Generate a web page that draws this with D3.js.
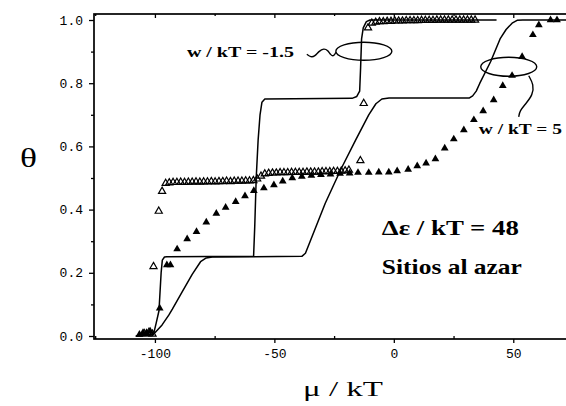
<!DOCTYPE html>
<html>
<head>
<meta charset="utf-8">
<script src="https://cdn.jsdelivr.net/npm/d3@7"></script>
<style>
  body { margin: 0; background: #fff; }
  svg { display: block; }
</style>
</head>
<body>
<div class="visual-data"></div>
<script>
const width = 566;
const height = 406;

// solid curves (mu/kT, theta)
const muLine1 = [-108, -101.2, -100.6, -99.5, -98.3, -97.4, -96.9, -96, -95, -58.7, -58.2, -57.6, -56.8, -56, -55.2, -54, -17.5, -15.5, -14.3, -13.9, -13.5, -12.8, -11.5, -10, 43];
const thetaLine1 = [0, 0.001, 0.005, 0.04, 0.08, 0.2, 0.24, 0.25, 0.251, 0.252, 0.35, 0.5, 0.62, 0.7, 0.74, 0.75, 0.752, 0.758, 0.775, 0.85, 0.94, 0.975, 0.995, 1.0, 1.0];

const muLine2 = [-108, -102, -100, -97, -94.2, -92.7, -88.6, -84.4, -80.9, -78.5, -76, -38.5, -37, -35, -28.7, -22, -16, -10.5, -7.5, -5, -2, 31.5, 33, 34.5, 36, 40.5, 44.6, 47, 49.5, 51.6, 54, 76];
const thetaLine2 = [0, 0.003, 0.01, 0.035, 0.066, 0.085, 0.14, 0.195, 0.235, 0.247, 0.25, 0.252, 0.262, 0.3, 0.42, 0.53, 0.62, 0.7, 0.735, 0.75, 0.753, 0.753, 0.76, 0.775, 0.8, 0.868, 0.942, 0.97, 0.99, 0.999, 1.0, 1.0];

// open triangles, w/kT = -1.5
const muOpen = [-104.5, -102.5, -101, -100.6, -98.4, -97,
  -95.5, -94, -92.4, -90.8, -89.2, -87.6, -86, -84.4, -82.8, -81.2, -79.6, -78, -76.4, -74.8, -73.2, -71.6, -70, -68.4, -66.8, -65.2, -63.6, -62, -60.4, -58.8,
  -57.2, -55.6, -54,
  -52.4, -50.8, -49.2, -47.6, -46, -44.4, -42.8, -41.2, -39.6, -38, -36.4, -34.8, -33.2, -31.6, -30, -28.4, -26.8, -25.2, -23.6, -22, -20.4, -18.8,
  -14, -12.6, -10.8,
  -9.2, -7.6, -6, -4.4, -2.8, -1.2, 0.4, 2, 3.6, 5.2, 6.8, 8.4, 10, 11.6, 13.2, 14.8, 16.4, 18, 19.6, 21.2, 22.8, 24.4, 26, 27.6, 29.2, 30.8, 32.4, 34];
const thetaOpen = [0.008, 0.012, 0.006, 0.22, 0.395, 0.458,
  0.483, 0.485, 0.486, 0.486, 0.487, 0.486, 0.487, 0.487, 0.488, 0.487, 0.488, 0.488, 0.489, 0.488, 0.489, 0.489, 0.49, 0.489, 0.49, 0.49, 0.49, 0.491, 0.491, 0.492,
  0.497, 0.506, 0.513,
  0.515, 0.516, 0.516, 0.517, 0.517, 0.517, 0.518, 0.518, 0.518, 0.518, 0.519, 0.519, 0.519, 0.519, 0.52, 0.52, 0.52, 0.521, 0.521, 0.522, 0.523, 0.525,
  0.555, 0.736, 0.975,
  0.99, 0.993, 0.995, 0.995, 0.996, 0.996, 0.997, 0.997, 0.997, 0.998, 0.998, 0.998, 0.998, 0.999, 0.999, 0.999, 0.999, 1.0, 1.0, 1.0, 1.0, 1.0, 1.0, 1.0, 1.0, 1.0, 1.0, 1.0];

// filled triangles, w/kT = 5
const muFilled = [-106.5, -105, -103.5, -102, -98, -95, -93.5, -90.7, -86.5, -82.6, -78.5, -74.3, -70.4, -66.2, -62.3, -58.6, -54.4, -50.2, -46.5, -42.5, -38.5, -34.5, -30.5, -26.5, -22.5, -18.5, -15, -10.5, -6.3, -2.1, 1.4, 6, 9.8, 13.5, 17.4, 21.3, 25.1, 29.3, 33.5, 37.4, 41.8, 45.6, 49.5, 53.7, 58.2, 60.7, 65.6, 68.3];
const thetaFilled = [0.005, 0.01, 0.01, 0.015, 0.088, 0.225, 0.225, 0.275, 0.307, 0.33, 0.36, 0.388, 0.407, 0.425, 0.443, 0.46, 0.468, 0.478, 0.49, 0.5, 0.505, 0.508, 0.51, 0.512, 0.514, 0.515, 0.517, 0.517, 0.518, 0.518, 0.522, 0.527, 0.538, 0.547, 0.56, 0.594, 0.623, 0.652, 0.684, 0.712, 0.747, 0.792, 0.824, 0.884, 0.953, 0.984, 1.0, 1.0];

const xMajor = [-100, -50, 0, 50];
const xMinor = [-125, -75, -25, 25, 75];
const yMajor = [0, 0.2, 0.4, 0.6, 0.8, 1.0];
const yMinor = [0.1, 0.3, 0.5, 0.7, 0.9];

const xMin = -125.5, xMax = 75, yMin = -0.0095, yMax = 1.019;

const x = d3.scaleLinear().domain([xMin, xMax]).range([94, 573]);
const y = d3.scaleLinear().domain([yMin, yMax]).range([339, 14]);

const svg = d3.select(".visual-data")
              .append("svg")
              .attr("width", width)
              .attr("height", height)
              .style("background-color", "#FFFFFF");

//frame
svg.append("rect")
   .attr("x", x(xMin))
   .attr("y", y(yMax))
   .attr("width", x(xMax) - x(xMin))
   .attr("height", y(yMin) - y(yMax))
   .attr("fill", "none")
   .attr("stroke", "#000")
   .attr("stroke-width", 1.7);

//axes
function styleAxis(g) {
  g.select(".domain").remove();
  g.selectAll("line").attr("stroke", "#000").attr("stroke-width", 1.3);
  g.selectAll("text")
   .attr("fill", "#000")
   .style("font-family", "'Liberation Mono', monospace")
   .style("font-size", "13px");
}

svg.append("g")
   .attr("transform", "translate(0," + y(yMin) + ")")
   .call(d3.axisBottom(x).tickValues(xMajor).tickSize(4).tickPadding(6).tickFormat(d => String(d)))
   .call(styleAxis);
svg.append("g")
   .attr("transform", "translate(0," + y(yMin) + ")")
   .call(d3.axisTop(x).tickValues(xMinor).tickSize(3).tickFormat(""))
   .call(styleAxis);
svg.append("g")
   .attr("transform", "translate(0," + y(yMax) + ")")
   .call(d3.axisBottom(x).tickValues(xMajor).tickSize(4).tickFormat(""))
   .call(styleAxis);
svg.append("g")
   .attr("transform", "translate(0," + y(yMax) + ")")
   .call(d3.axisBottom(x).tickValues(xMinor).tickSize(2).tickFormat(""))
   .call(styleAxis);

svg.append("g")
   .attr("transform", "translate(" + x(xMin) + ",0)")
   .call(d3.axisLeft(y).tickValues(yMajor).tickSize(5).tickPadding(6).tickFormat(d3.format(".1f")))
   .call(styleAxis);
svg.append("g")
   .attr("transform", "translate(" + x(xMin) + ",0)")
   .call(d3.axisLeft(y).tickValues(yMinor).tickSize(3).tickFormat(""))
   .call(styleAxis);

//curves
const line = d3.line().x(d => x(d[0])).y(d => y(d[1]));
[[muLine1, thetaLine1], [muLine2, thetaLine2]].forEach(([mu, th]) => {
  svg.append("path")
     .datum(mu.map((m, i) => [m, th[i]]))
     .attr("d", line)
     .attr("fill", "none")
     .attr("stroke", "#000")
     .attr("stroke-width", 1.5)
     .attr("stroke-linejoin", "round");
});

//symbols
const tri = d3.symbol().type(d3.symbolTriangle).size(26);
svg.append("g").selectAll("path")
   .data(muFilled.map((m, i) => [m, thetaFilled[i]]))
   .join("path")
   .attr("d", tri)
   .attr("transform", d => "translate(" + x(d[0]) + "," + y(d[1]) + ")")
   .attr("fill", "#000");
svg.append("g").selectAll("path")
   .data(muOpen.map((m, i) => [m, thetaOpen[i]]))
   .join("path")
   .attr("d", d3.symbol().type(d3.symbolTriangle).size(22))
   .attr("transform", d => "translate(" + x(d[0]) + "," + y(d[1]) + ")")
   .attr("fill", "none")
   .attr("stroke", "#000")
   .attr("stroke-width", 1.2);

//annotations
const e1 = [x(-12.55), y(0.901)];
const e2 = [x(48.1), y(0.852)];
svg.append("ellipse").attr("cx", e1[0]).attr("cy", e1[1]).attr("rx", 28).attr("ry", 9)
   .attr("fill", "none").attr("stroke", "#000").attr("stroke-width", 1.4);
svg.append("ellipse").attr("cx", e2[0]).attr("cy", e2[1]).attr("rx", 28).attr("ry", 9.5)
   .attr("fill", "none").attr("stroke", "#000").attr("stroke-width", 1.4);

const wiggle = d3.line().curve(d3.curveBasis);
const squiggle = [[-57, 3], [-53, 6], [-49, 5], [-45, 0], [-40, -3], [-36, -1], [-33, 4], [-30, 5], [-28, 1]];
svg.append("path")
   .attr("d", wiggle(squiggle.map(p => [e1[0] + p[0], e1[1] + p[1]])))
   .attr("fill", "none").attr("stroke", "#000").attr("stroke-width", 1.4);
const tail = [[20, 9], [25, 18], [24, 28], [17, 37], [11, 44], [10, 50]];
svg.append("path")
   .attr("d", wiggle(tail.map(p => [e2[0] + p[0], e2[1] + p[1]])))
   .attr("fill", "none").attr("stroke", "#000").attr("stroke-width", 1.4);

function label(text, mu, th, size, len, bold) {
  svg.append("text")
     .attr("x", x(mu))
     .attr("y", y(th))
     .attr("textLength", len)
     .attr("lengthAdjust", "spacingAndGlyphs")
     .style("font-family", "'Liberation Serif', 'Times New Roman', serif")
     .style("font-weight", bold ? "bold" : "normal")
     .style("font-size", size + "px")
     .attr("fill", "#000")
     .text(text);
}
label("w / kT = -1.5", -86.6, 0.882, 14, 107, true);
label("w / kT = 5", 35.6, 0.638, 15, 83, true);
label("Δε / kT = 48", -5, 0.32, 21, 137, true);
label("Sitios al azar", -5, 0.197, 21, 140, true);

//axis titles
svg.append("text")
   .attr("x", 20)
   .attr("y", 167)
   .attr("textLength", 17)
   .attr("lengthAdjust", "spacingAndGlyphs")
   .style("font-family", "'Liberation Serif', serif")
   .style("font-size", "28px")
   .text("θ");
svg.append("text")
   .attr("x", 303)
   .attr("y", 396)
   .attr("textLength", 80)
   .attr("lengthAdjust", "spacingAndGlyphs")
   .style("font-family", "'Liberation Serif', serif")
   .style("font-size", "20px")
   .text("μ / kT");
</script>
</body>
</html>
